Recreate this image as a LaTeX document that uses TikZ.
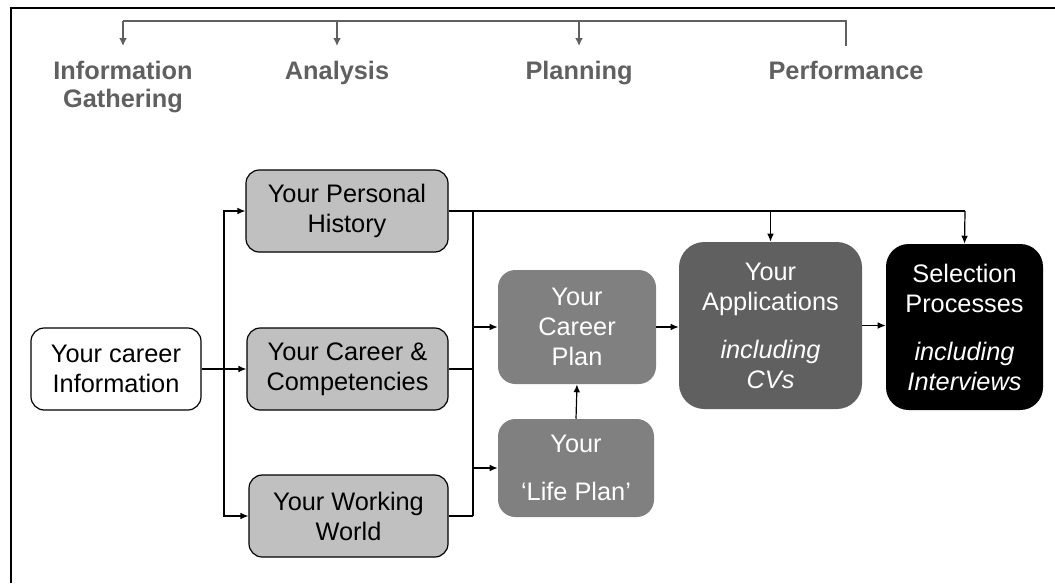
\documentclass[tikz,border=0pt]{standalone}
\usepackage{fontspec}
\setmainfont{Liberation Sans}
\usetikzlibrary{arrows.meta}
\definecolor{hdr}{RGB}{96,96,96}
\definecolor{lgray}{RGB}{192,192,192}
\definecolor{mgray}{RGB}{128,128,128}
\definecolor{dgray}{RGB}{96,96,96}
\def\px{0.75pt}
\begin{document}
\begin{tikzpicture}[x=0.75pt,y=-0.75pt,
  font=\fontsize{19}{22.5}\selectfont,
  arr/.style={line width=0.9pt,-{Latex[length=6pt,width=5pt]}},
  conn/.style={line width=0.9pt},
  hline/.style={draw=hdr,line width=1.8pt},
  harr/.style={draw=hdr,line width=1.8pt,-{Latex[length=6pt,width=6pt]}},
  hlab/.style={anchor=north,text=hdr,font=\fontsize{19}{21}\selectfont\bfseries,align=center,inner xsep=0pt,inner ysep=11pt},
  basebox/.style={align=center,inner sep=0pt},
  wbox/.style={basebox,draw=black,fill=white,line width=0.9pt,rounded corners=10pt},
  gbox/.style={basebox,draw=black,fill=lgray,line width=0.9pt,rounded corners=10pt,minimum height=82*\px},
  mbox/.style={basebox,fill=mgray,text=white,rounded corners=13pt},
  dbox/.style={basebox,fill=dgray,text=white,rounded corners=19pt},
  kbox/.style={basebox,fill=black,text=white,rounded corners=17pt}
]
\useasboundingbox (0,0) rectangle (1055,583);
% frame
\draw[line width=2.2pt] (9.5,8) -- (1055,8);
\draw[line width=1.5pt] (10.5,7) -- (10.5,583);

% header labels
\node[hlab] (l1) at (123,46) {Information\\Gathering};
\node[hlab] (l2) at (337,46) {Analysis};
\node[hlab] (l3) at (579,46) {Planning};
\node[hlab] (l4) at (846,46) {Performance};
\coordinate (hb) at (0,21);
\draw[hline] (l1.north |- hb) -- (l4.north |- hb) -- (l4.north);
\draw[harr] (l1.north |- hb) -- (l1.north);
\draw[harr] (l2.north |- hb) -- (l2.north);
\draw[harr] (l3.north |- hb) -- (l3.north);

% boxes
\node[wbox,minimum width=170*\px,minimum height=82*\px] (info) at (116,369) {Your career\\Information};
\node[gbox,minimum width=202*\px] (ph) at (347,211) {Your Personal\\History};
\node[gbox,minimum width=201*\px] (cc) at (347.5,369) {Your Career \&\\Competencies};
\node[gbox,minimum width=199*\px] (ww) at (348.5,516) {Your Working\\World};
\node[mbox,minimum width=158*\px,minimum height=114*\px] (cp) at (577,327) {Your\\Career\\Plan};
\node[mbox,minimum width=156*\px,minimum height=98*\px] (lp) at (576,468) {Your\\[13.5pt]‘Life Plan’};
\node[dbox,minimum width=183*\px,minimum height=167*\px] (app) at (770.5,325.5) {Your\\Applications\\[13.5pt]\textit{including}\\\textit{CVs}};
\node[kbox,minimum width=157*\px,minimum height=166*\px] (sel) at (964.5,327) {Selection\\Processes\\[13.5pt]\textit{including}\\\textit{Interviews}};

% left fan-out
\coordinate (tl) at (224,0);
\draw[conn] (info.east) -- (info.east -| tl);
\draw[arr] (info.east -| tl) -- (cc.west);
\draw[arr] (info.east -| tl) |- (ph.west);
\draw[arr] (info.east -| tl) |- (ww.west);

% right collection
\coordinate (tr) at (473,0);
\coordinate (tend) at (965,211);
\draw[conn] (ph.east) -- (tend);
\draw[arr] (tend) -- (sel.north);
\draw[arr] (app.north |- tend) -- (app.north);
\draw[conn] (ph.east -| tr) -- (ww.east -| tr);
\draw[conn] (cc.east) -- (cc.east -| tr);
\draw[conn] (ww.east) -- (ww.east -| tr);
\draw[arr] (cp.west -| tr) -- (cp.west);
\draw[arr] (lp.west -| tr) -- (lp.west);
\draw[arr] (lp.north) -- (cp.south);
\draw[arr] (cp.east) -- (cp.east -| app.west);
\draw[arr] (app.east) -- (app.east -| sel.west);
\end{tikzpicture}
\end{document}
